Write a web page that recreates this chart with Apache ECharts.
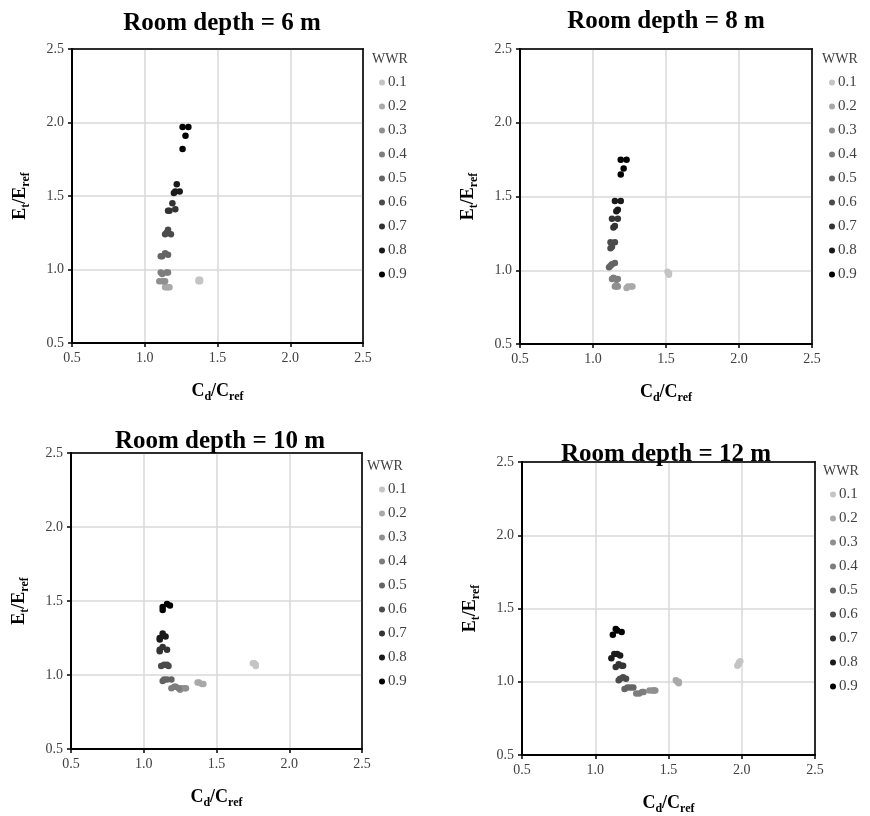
<!DOCTYPE html>
<html>
<head>
<meta charset="utf-8">
<script src="https://cdn.jsdelivr.net/npm/echarts@6/dist/echarts.min.js"></script>
<style>html,body{margin:0;padding:0;background:#fff}#c{width:870px;height:816px}</style>
</head>
<body>
<div id="c"></div>
<script>
// ---------- DATA ----------
const wwrLabels = ['0.1','0.2','0.3','0.4','0.5','0.6','0.7','0.8','0.9'];
const panelTitles = ['Room depth = 6 m','Room depth = 8 m','Room depth = 10 m','Room depth = 12 m'];
const axisTicks = [0.5, 1.0, 1.5, 2.0, 2.5];

// each entry: points [Cd/Cref, Et/Eref] for WWR 0.1 ... 0.9
const depth6 = [
  [[1.37,0.93],[1.38,0.92],[1.38,0.93],[1.37,0.92]],
  [[1.14,0.88],[1.15,0.88],[1.16,0.88],[1.17,0.88]],
  [[1.10,0.92],[1.12,0.92],[1.13,0.92],[1.14,0.92]],
  [[1.11,0.98],[1.12,0.97],[1.15,0.98],[1.16,0.98]],
  [[1.14,1.11],[1.12,1.09],[1.16,1.10],[1.11,1.09]],
  [[1.16,1.27],[1.14,1.24],[1.18,1.24],[1.15,1.25]],
  [[1.19,1.45],[1.17,1.40],[1.21,1.41],[1.16,1.40]],
  [[1.22,1.58],[1.24,1.53],[1.21,1.53],[1.20,1.52]],
  [[1.26,1.97],[1.30,1.97],[1.28,1.91],[1.26,1.82]]
];
const depth8 = [
  [[1.51,0.99],[1.52,0.98],[1.52,0.98],[1.52,0.97]],
  [[1.23,0.88],[1.24,0.89],[1.26,0.89],[1.27,0.89]],
  [[1.15,0.89],[1.16,0.89],[1.17,0.89],[1.16,0.90]],
  [[1.13,0.94],[1.14,0.95],[1.16,0.94],[1.17,0.94]],
  [[1.11,1.02],[1.12,1.03],[1.13,1.04],[1.15,1.05]],
  [[1.12,1.19],[1.15,1.19],[1.12,1.15],[1.13,1.16]],
  [[1.13,1.35],[1.17,1.35],[1.14,1.29],[1.15,1.30]],
  [[1.15,1.47],[1.19,1.47],[1.17,1.41],[1.16,1.40]],
  [[1.19,1.75],[1.23,1.75],[1.21,1.69],[1.19,1.65]]
];
const depth10 = [
  [[1.75,1.08],[1.76,1.08],[1.77,1.07],[1.77,1.06]],
  [[1.37,0.95],[1.38,0.95],[1.40,0.94],[1.41,0.94]],
  [[1.25,0.90],[1.26,0.91],[1.28,0.91],[1.29,0.91]],
  [[1.19,0.91],[1.21,0.92],[1.22,0.92],[1.24,0.91]],
  [[1.13,0.96],[1.14,0.97],[1.16,0.97],[1.19,0.97]],
  [[1.12,1.06],[1.14,1.07],[1.16,1.07],[1.17,1.06]],
  [[1.13,1.19],[1.16,1.17],[1.11,1.17],[1.11,1.16]],
  [[1.13,1.28],[1.15,1.26],[1.11,1.25],[1.11,1.24]],
  [[1.16,1.48],[1.18,1.47],[1.13,1.46],[1.13,1.44]]
];
const depth12 = [
  [[1.97,1.11],[1.98,1.12],[1.98,1.13],[1.99,1.14]],
  [[1.55,1.01],[1.56,1.00],[1.57,1.00],[1.57,0.99]],
  [[1.37,0.94],[1.39,0.94],[1.40,0.94],[1.41,0.94]],
  [[1.28,0.92],[1.30,0.92],[1.32,0.93],[1.33,0.93]],
  [[1.20,0.95],[1.22,0.96],[1.24,0.96],[1.26,0.96]],
  [[1.16,1.01],[1.17,1.02],[1.19,1.03],[1.21,1.02]],
  [[1.14,1.10],[1.16,1.12],[1.18,1.11],[1.19,1.11]],
  [[1.13,1.19],[1.15,1.19],[1.17,1.18],[1.11,1.16]],
  [[1.14,1.36],[1.15,1.35],[1.18,1.34],[1.12,1.32]]
];
const panelData = [depth6, depth8, depth10, depth12];

// ---------- STYLE ----------
const wwrColors = ['#c4c4c4','#a9a9a9','#8f8f8f','#7d7d7d','#646464','#4b4b4b','#333333','#1a1a1a','#000000'];
const FONT = '"Liberation Serif", "Times New Roman", serif';
const layouts = [
  {left:72, top:49, width:291, height:294, titleX:217, titleY:6, legX:379, legY:75, wwrX:367, wwrY:47},
  {left:520, top:49, width:292, height:295, titleX:661, titleY:4, legX:829, legY:75, wwrX:817, wwrY:47},
  {left:71, top:453, width:291, height:296, titleX:215, titleY:424, legX:379, legY:482, wwrX:362, wwrY:454},
  {left:522, top:462, width:293, height:294, titleX:661, titleY:437, legX:830, legY:487, wwrX:818, wwrY:459}
];

const grids = [], xAxes = [], yAxes = [], series = [], titles = [], legends = [];
const extraX = [], extraY = [];
const rich = {
  m: {fontSize: 18, fontWeight: 'bold', fontFamily: FONT, color: '#000', lineHeight: 24, verticalAlign: 'middle'},
  s: {fontSize: 12, fontWeight: 'bold', fontFamily: FONT, color: '#000', lineHeight: 12, verticalAlign: 'bottom'}
};
layouts.forEach((L, p) => {
  grids.push({left: L.left, top: L.top, width: L.width, height: L.height, show: true,
    borderColor: '#000', borderWidth: 1.5, backgroundColor: '#fff', containLabel: false});
  const axisCommon = {
    gridIndex: p, type: 'value', min: axisTicks[0], max: axisTicks[axisTicks.length - 1], interval: 0.5,
    nameLocation: 'middle',
    axisLine: {show: true, onZero: false, lineStyle: {color: '#000', width: 2}},
    axisTick: {show: true, inside: false, length: 4, lineStyle: {color: '#000', width: 1.5}},
    axisLabel: {fontFamily: FONT, fontSize: 14, color: '#404040', formatter: v => v.toFixed(1), margin: 8},
    splitLine: {show: true, lineStyle: {color: '#d9d9d9', width: 1.5}}
  };
  xAxes.push(Object.assign({}, axisCommon, {
    name: '{m|C}{s|d}{m|/C}{s|ref}', nameGap: 36, nameTextStyle: {rich: rich}
  }));
  yAxes.push(Object.assign({}, axisCommon, {
    name: '{m|E}{s|t}{m|/E}{s|ref}', nameGap: 40, nameTextStyle: {rich: rich}
  }));
  // frame lines on top and right sides
  const frame = {
    gridIndex: p, type: 'value', min: axisTicks[0], max: axisTicks[axisTicks.length - 1], interval: 0.5,
    axisLine: {show: true, onZero: false, lineStyle: {color: '#000', width: 1.5}},
    axisTick: {show: false}, axisLabel: {show: false}, splitLine: {show: false}
  };
  extraX.push(Object.assign({}, frame, {position: 'top'}));
  extraY.push(Object.assign({}, frame, {position: 'right'}));

  titles.push({text: panelTitles[p], left: L.titleX, top: L.titleY, textAlign: 'center',
    textStyle: {fontFamily: FONT, fontSize: 25, fontWeight: 'bold', color: '#000'}});
  titles.push({text: 'WWR', left: L.wwrX, top: L.wwrY,
    textStyle: {fontFamily: FONT, fontSize: 14, fontWeight: 'normal', color: '#404040'}});
  const names = [];
  panelData[p].forEach((pts, i) => {
    const nm = wwrLabels[i];
    names.push(nm);
    series.push({
      name: nm, type: 'scatter', xAxisIndex: p, yAxisIndex: p,
      symbol: 'circle', symbolSize: 6.5,
      itemStyle: {color: wwrColors[i], opacity: 1},
      data: pts
    });
  });
  legends.push({
    data: names.map(n => ({name: n, icon: 'circle'})), orient: 'vertical', left: L.legX, top: L.legY,
    padding: 0, itemWidth: 6, itemHeight: 14, itemGap: 9, selectedMode: false,
    textStyle: {fontFamily: FONT, fontSize: 15, color: '#404040', padding: [0,0,0,-2]}
  });
});

const chart = echarts.init(document.getElementById('c'), null, {renderer: 'canvas'});
chart.setOption({
  animation: false,
  backgroundColor: '#fff',
  title: titles,
  legend: legends,
  grid: grids,
  xAxis: xAxes.concat(extraX),
  yAxis: yAxes.concat(extraY),
  series: series
});
</script>
</body>
</html>
